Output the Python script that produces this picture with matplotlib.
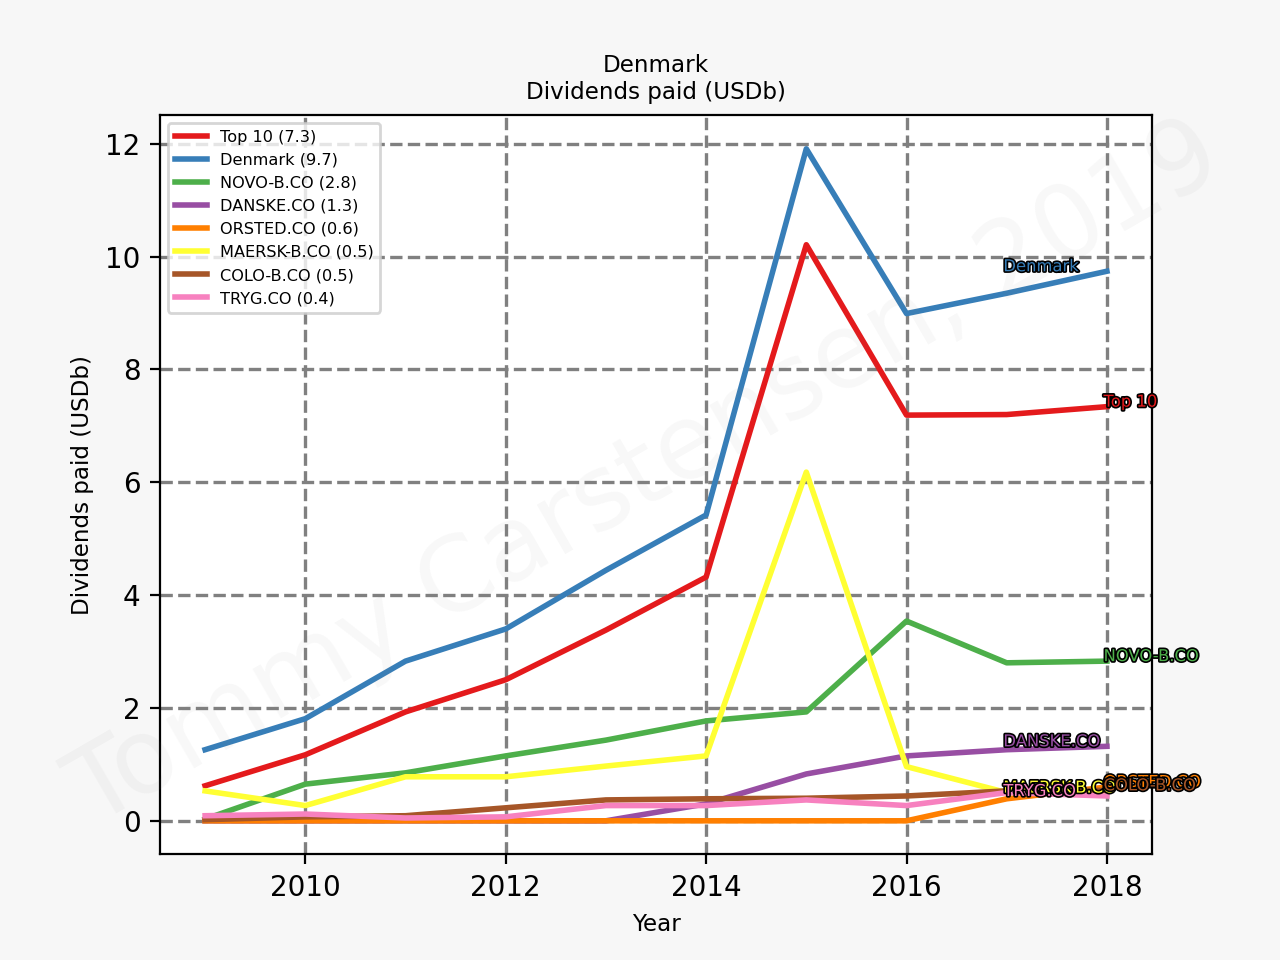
import numpy as np
import matplotlib.pyplot as plt
import matplotlib.patheffects as pe

years = np.arange(2009, 2019)
names = ['Top 10', 'Denmark', 'NOVO-B.CO', 'DANSKE.CO', 'ORSTED.CO',
         'MAERSK-B.CO', 'COLO-B.CO', 'TRYG.CO']
colors = ['#e41a1c', '#377eb8', '#4daf4a', '#984ea3', '#ff7f00',
          '#ffff33', '#a65628', '#f781bf']
top10 = [0.62, 1.17, 1.93, 2.50, 3.38, 4.32, 10.21, 7.19, 7.20, 7.34]
denmark = [1.26, 1.81, 2.83, 3.40, 4.44, 5.42, 11.91, 8.99, 9.35, 9.74]
novo = [0.03, 0.65, 0.85, 1.15, 1.43, 1.77, 1.93, 3.54, 2.80, 2.83]
danske = [0, 0, 0, 0, 0, 0.30, 0.83, 1.15, 1.26, 1.32]
orsted = [0, 0, 0, 0, 0, 0, 0, 0, 0.39, 0.60]
maersk = [0.53, 0.27, 0.78, 0.78, 0.97, 1.15, 6.18, 0.96, 0.50, 0.50]
colo = [0.02, 0.07, 0.09, 0.23, 0.37, 0.39, 0.40, 0.44, 0.53, 0.54]
tryg = [0.09, 0.12, 0.05, 0.07, 0.27, 0.27, 0.37, 0.27, 0.50, 0.44]
series = [top10, denmark, novo, danske, orsted, maersk, colo, tryg]

fig = plt.figure(figsize=(6.4, 4.8), dpi=200, facecolor='#f7f7f7')
ax = fig.add_subplot(111)

for i, (name, c, vals) in enumerate(zip(names, colors, series)):
    ax.plot(years, vals, color=c, lw=2, label='%s (%.1f)' % (name, vals[-1]))
    # labels alternate between last two years
    xl = years[-1] if i % 2 == 0 else years[-2]
    ax.annotate(name, (xl, vals[-1]), xytext=(-1.2, 0),
                textcoords='offset points', color=c, fontsize=5.9,
                ha='left', va='baseline',
                path_effects=[pe.withStroke(linewidth=1.2, foreground='k')])

ax.grid(True, ls='--', color='grey', lw=1.2)
ax.set_xticks([2010, 2012, 2014, 2016, 2018])
ax.set_yticks(range(0, 13, 2))
ax.set_xlabel('Year', fontsize=8.3)
ax.set_ylabel('Dividends paid (USDb)', fontsize=8.3)
ax.set_title('Denmark\nDividends paid (USDb)', fontsize=8.3)
ax.legend(loc='upper left', fontsize=5.8)

fig.text(0.505, 0.505, 'Tommy Carstensen, 2019', fontsize=37, color='grey',
         alpha=0.06, rotation=30, ha='center', va='center')

plt.savefig('out.png', dpi=200, facecolor=fig.get_facecolor())
